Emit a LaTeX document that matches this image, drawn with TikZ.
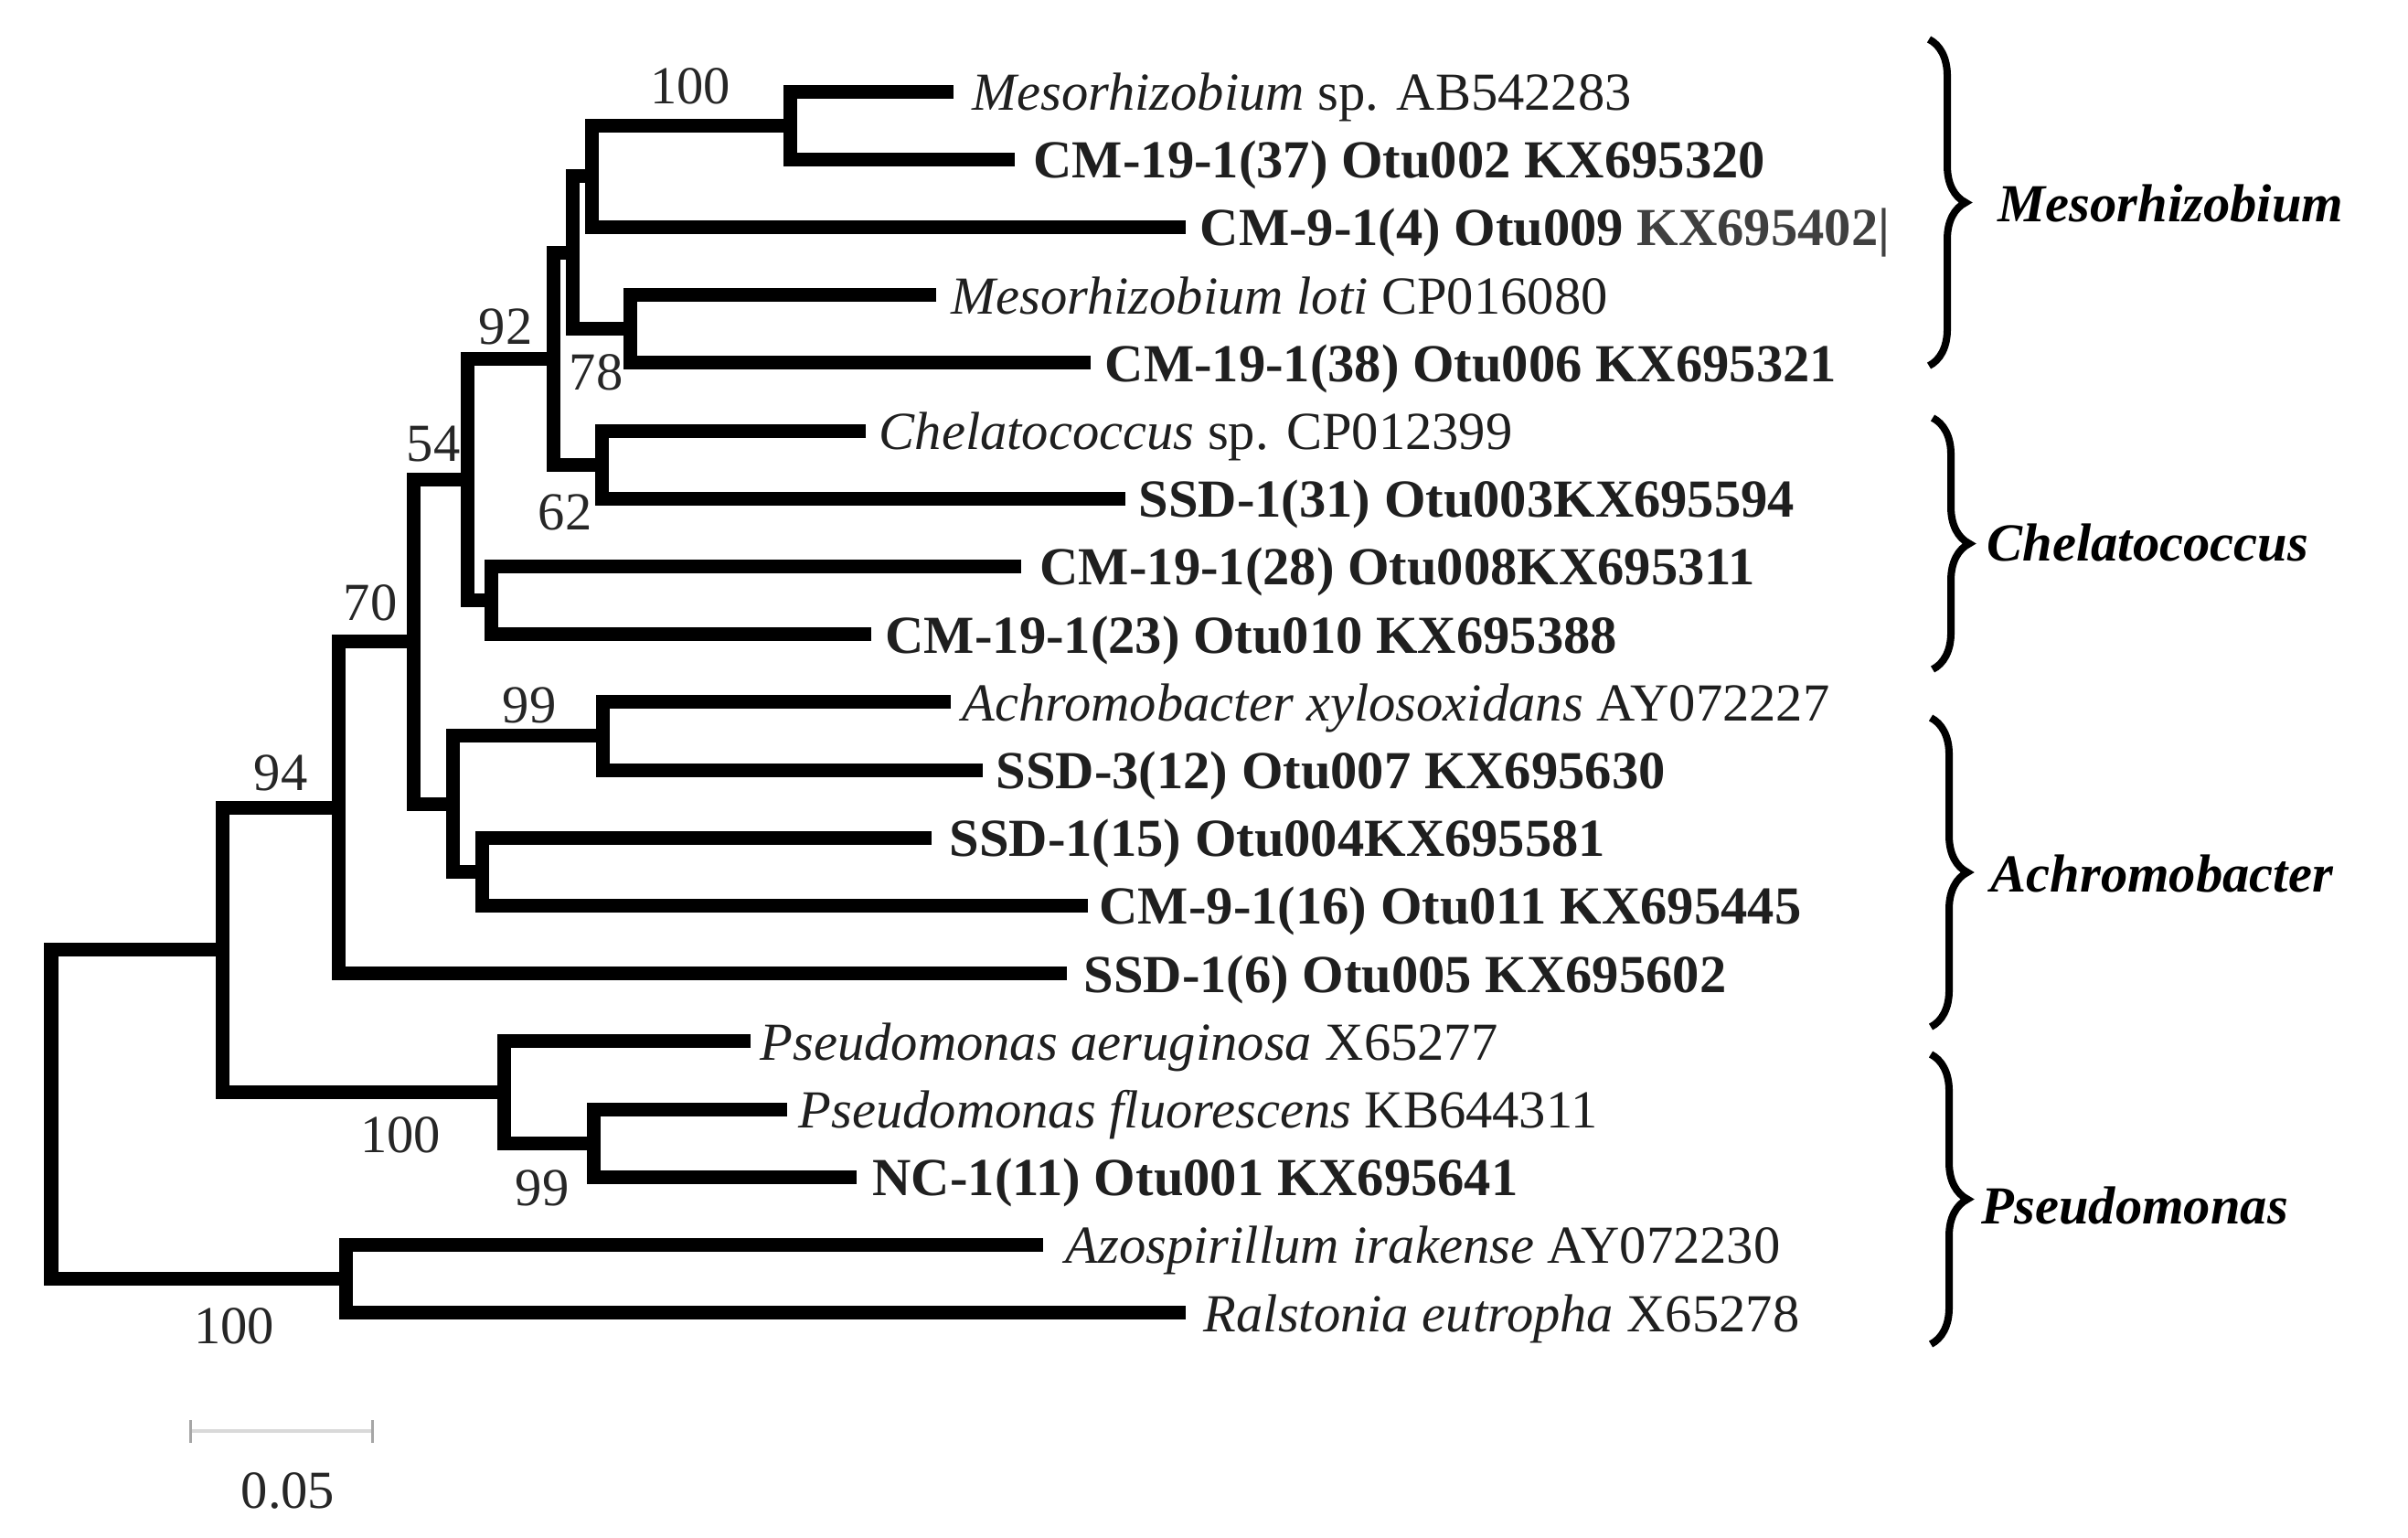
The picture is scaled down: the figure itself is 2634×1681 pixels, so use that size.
\documentclass[tikz,border=0pt]{standalone}
\usepackage{fontspec}
\setmainfont{Liberation Serif}
\usetikzlibrary{decorations.pathreplacing}
\newcommand\lfnode[5]{%
  \coordinate (e#1) at (#2,#3);
  \node[leaftext] (t#1) at (#4,#3) {#5};}
\begin{document}
\begin{tikzpicture}[x=0.01cm, y=-0.01cm,
  br/.style={line width=0.15cm, line join=miter, line cap=butt},
  leaftext/.style={anchor=base west, inner sep=0pt, yshift=-0.205cm, text=black!88, font=\fontsize{16.65pt}{20pt}\selectfont},
  boot/.style={inner sep=0pt, text=black!85, font=\fontsize{16.65pt}{20pt}\selectfont},
  grp/.style={anchor=base west, inner sep=0pt, yshift=-0.205cm, font=\fontsize{16.65pt}{20pt}\selectfont\bfseries\itshape},
  brc/.style={decorate, decoration={brace, amplitude=0.4cm}, line width=0.08cm}]
\fill[white] (0,0) rectangle (2634,1681);
\useasboundingbox (0,0) rectangle (2634,1681);

% leaves
\lfnode{1}{1043}{100}{1063}{\textit{Mesorhizobium} sp. AB542283}
\lfnode{2}{1110}{174.2}{1130}{\textbf{CM-19-1(37) Otu002 KX695320}}
\lfnode{3}{1297}{248.4}{1312}{\textbf{CM-9-1(4) Otu009 {\color{black!75}KX695402|}}}
\lfnode{4}{1024}{322.6}{1040}{\textit{Mesorhizobium loti} CP016080}
\lfnode{5}{1193}{396.8}{1208}{\textbf{CM-19-1(38) Otu006 KX695321}}
\lfnode{6}{947}{471}{961}{\textit{Chelatococcus} sp. CP012399}
\lfnode{7}{1231}{545.2}{1245}{\textbf{SSD-1(31) Otu003KX695594}}
\lfnode{8}{1117}{619.4}{1137}{\textbf{CM-19-1(28) Otu008KX695311}}
\lfnode{9}{953}{693.6}{968}{\textbf{CM-19-1(23) Otu010 KX695388}}
\lfnode{10}{1040}{767.8}{1052}{\textit{Achromobacter xylosoxidans} AY072227}
\lfnode{11}{1075}{842}{1089}{\textbf{SSD-3(12) Otu007 KX695630}}
\lfnode{12}{1019}{916.2}{1038}{\textbf{SSD-1(15) Otu004KX695581}}
\lfnode{13}{1190}{990.4}{1202}{\textbf{CM-9-1(16) Otu011 KX695445}}
\lfnode{14}{1167}{1064.6}{1185}{\textbf{SSD-1(6) Otu005 KX695602}}
\lfnode{15}{821}{1138.8}{831}{\textit{Pseudomonas aeruginosa} X65277}
\lfnode{16}{861}{1213}{873}{\textit{Pseudomonas fluorescens} KB644311}
\lfnode{17}{937}{1287.2}{954}{\textbf{NC-1(11) Otu001 KX695641}}
\lfnode{18}{1141}{1361.4}{1165}{\textit{Azospirillum irakense} AY072230}
\lfnode{19}{1297}{1435.6}{1316}{\textit{Ralstonia eutropha} X65278}

% internal nodes
\coordinate (A) at (864,137.1);
\coordinate (B) at (647,192.75);
\coordinate (D) at (689,359.7);
\coordinate (C) at (626,276.2);
\coordinate (F) at (658,508.1);
\coordinate (E) at (605,392.2);
\coordinate (H) at (537,656.5);
\coordinate (G) at (511,524.3);
\coordinate (L) at (659,804.9);
\coordinate (M) at (527,953.3);
\coordinate (J) at (495,879.1);
\coordinate (I) at (452,701.7);
\coordinate (K) at (370,883.2);
\coordinate (Q) at (649,1250.1);
\coordinate (P) at (551,1194.5);
\coordinate (N) at (243,1038.8);
\coordinate (R) at (378,1398.5);
\coordinate (root) at (56,1218.7);

% branches
\draw[br] (e1) -| (A) |- (e2);
\draw[br] (A) -| (B) |- (e3);
\draw[br] (e4) -| (D) |- (e5);
\draw[br] (B) -| (C) |- (D);
\draw[br] (e6) -| (F) |- (e7);
\draw[br] (C) -| (E) |- (F);
\draw[br] (e8) -| (H) |- (e9);
\draw[br] (E) -| (G) |- (H);
\draw[br] (e10) -| (L) |- (e11);
\draw[br] (e12) -| (M) |- (e13);
\draw[br] (L) -| (J) |- (M);
\draw[br] (G) -| (I) |- (J);
\draw[br] (I) -| (K) |- (e14);
\draw[br] (e16) -| (Q) |- (e17);
\draw[br] (e15) -| (P) |- (Q);
\draw[br] (K) -| (N) |- (P);
\draw[br] (e18) -| (R) |- (e19);
\draw[br] (N) -| (root) |- (R);

% bootstrap values
\node[boot] (b1) at (755,94) {100};
\node[boot] (b2) at (553,357) {92};
\node[boot] (b3) at (652,407) {78};
\node[boot] (b4) at (474,486) {54};
\node[boot] (b5) at (618,560) {62};
\node[boot] (b6) at (405,659) {70};
\node[boot] (b7) at (579,771) {99};
\node[boot] (b8) at (307,845) {94};
\node[boot] (b9) at (438,1241) {100};
\node[boot] (b10) at (593,1299) {99};
\node[boot] (b11) at (256,1450) {100};

% scale bar
\coordinate (s1) at (208,1565);
\coordinate (s2) at (407,1565);
\coordinate (s1a) at (208,1553);
\coordinate (s1b) at (208,1578);
\coordinate (s2a) at (407,1553);
\coordinate (s2b) at (407,1578);
\draw[black!15, line width=0.04cm] (s1) -- (s2);
\draw[black!35, line width=0.03cm] (s1a) -- (s1b);
\draw[black!35, line width=0.03cm] (s2a) -- (s2b);
\node[boot] (sc) at (315,1630) {0.05};

% braces
\coordinate (m1) at (2110,43);   \coordinate (m2) at (2110,400);
\coordinate (c1) at (2114,457);  \coordinate (c2) at (2114,732);
\coordinate (a1) at (2112,785);  \coordinate (a2) at (2112,1123);
\coordinate (p1) at (2112,1153); \coordinate (p2) at (2112,1470);
\draw[brc] (m1) -- (m2);
\draw[brc] (c1) -- (c2);
\draw[brc] (a1) -- (a2);
\draw[brc] (p1) -- (p2);

% group labels
\node[grp] (g1) at (2185,222) {Mesorhizobium};
\node[grp] (g2) at (2173,593) {Chelatococcus};
\node[grp] (g3) at (2177,955) {Achromobacter};
\node[grp] (g4) at (2167,1318) {Pseudomonas};
\end{tikzpicture}
\end{document}
